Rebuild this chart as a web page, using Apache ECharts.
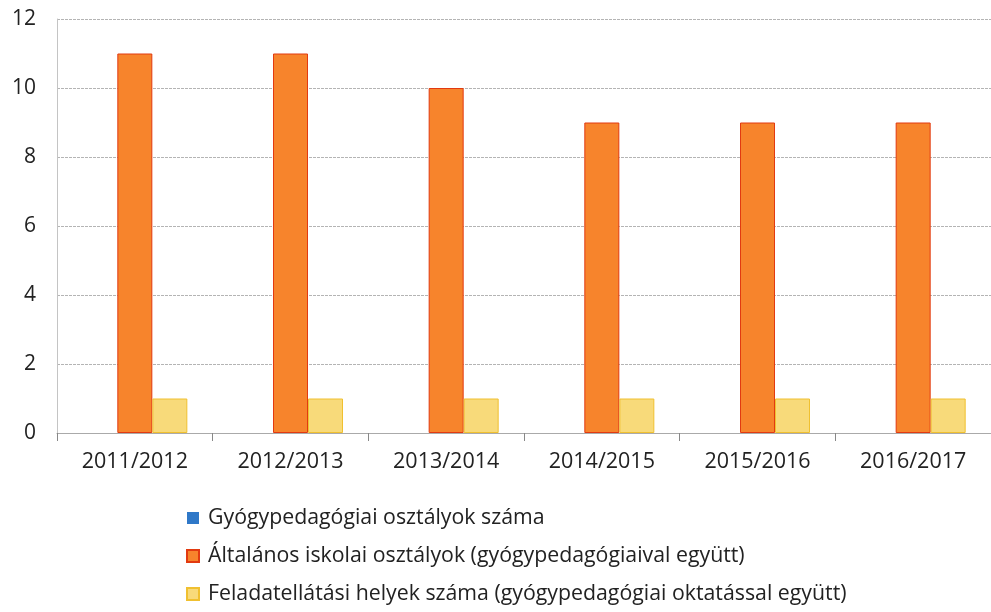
<!DOCTYPE html>
<html>
<head>
<meta charset="utf-8">
<script src="https://cdn.jsdelivr.net/npm/echarts@6/dist/echarts.min.js"></script>
<style>html,body{margin:0;padding:0;background:#fff}#chart{width:991px;height:612px}</style>
</head>
<body>
<div id="chart"></div>
<script>
var years = ["2011/2012", "2012/2013", "2013/2014", "2014/2015", "2015/2016", "2016/2017"];
var seriesNames = [
    "Gyógypedagógiai osztályok száma",
    "Általános iskolai osztályok (gyógypedagógiaival együtt)",
    "Feladatellátási helyek száma (gyógypedagógiai oktatással együtt)"
];
var gyogyClasses = [0, 0, 0, 0, 0, 0];
var generalClasses = [11, 11, 10, 9, 9, 9];
var sites = [1, 1, 1, 1, 1, 1];

var font = "Open Sans";
var chart = echarts.init(document.getElementById("chart"));
var option = {
    animation: false,
    grid: { left: 57, right: -9, top: 19, bottom: 179 },
    legend: {
        orient: "vertical",
        left: 186,
        top: 507,
        padding: 0,
        itemWidth: 12,
        itemHeight: 12,
        itemGap: 16,
        icon: "rect",
        textStyle: { fontFamily: font, fontSize: 21.3, lineHeight: 22, color: "#222", padding: [0, 0, 0, 4] },
        data: seriesNames
    },
    xAxis: {
        type: "category",
        data: years,
        axisLine: { lineStyle: { color: "#aaa" } },
        axisTick: { show: true, length: 8, lineStyle: { color: "#888" } },
        axisLabel: { fontFamily: font, fontSize: 21.5, color: "#222", margin: 18 }
    },
    yAxis: {
        type: "value",
        min: 0,
        max: 12,
        interval: 2,
        axisLine: { show: true, lineStyle: { color: "#c4c4c4" } },
        axisLabel: { fontFamily: font, fontSize: 21, color: "#222", margin: 21 },
        splitLine: { lineStyle: { color: "#b4b4b4", type: [3, 1] } }
    },
    series: [
        {
            name: seriesNames[0], type: "bar", data: gyogyClasses,
            barWidth: 35, barGap: "0%",
            itemStyle: { color: "#2f78c8" }
        },
        {
            name: seriesNames[1], type: "bar", data: generalClasses,
            barWidth: 35, barGap: "0%",
            itemStyle: { color: "#f7842c", borderColor: "#e23a10", borderWidth: 1 }
        },
        {
            name: seriesNames[2], type: "bar", data: sites,
            barWidth: 35, barGap: "0%",
            itemStyle: { color: "#f8da7a", borderColor: "#f0c030", borderWidth: 1 }
        }
    ]
};
chart.setOption(option);
</script>
</body>
</html>
